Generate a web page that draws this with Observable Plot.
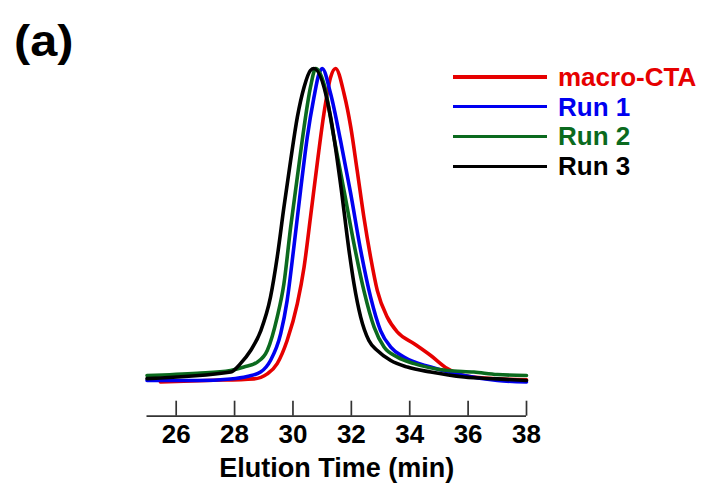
<!DOCTYPE html>
<html>
<head>
<meta charset="utf-8">
<script src="https://cdn.jsdelivr.net/npm/d3@7"></script>
<script src="https://cdn.jsdelivr.net/npm/@observablehq/plot@0.6"></script>
<style>
  html, body { margin: 0; padding: 0; background: #fff; }
  #wrap { position: relative; width: 707px; height: 485px; font-family: "Liberation Sans", Arial, sans-serif; }
  #panel { position: absolute; left: 14px; top: 18px; font-size: 45px; font-weight: bold; color: #000; line-height: 1; transform: scaleX(1.08); transform-origin: left top; }
  #legend { position: absolute; left: 453px; top: 62px; }
  .row { display: flex; align-items: center; height: 29.8px; }
  .sw { width: 94px; height: 3.4px; margin-right: 11px; }
  .lab { font-size: 26px; font-weight: bold; line-height: 1; white-space: nowrap; }
</style>
</head>
<body>
<div id="wrap">
  <div id="chart"></div>
  <div id="panel">(a)</div>
  <div id="legend"></div>
</div>
<script>
// Series names and colours
const seriesNames = ["macro-CTA", "Run 1", "Run 2", "Run 3"];
const seriesColors = ["#e60000", "#0000f0", "#0b6a1e", "#000000"];

// [elution time (min), normalized signal]
const macroCTA = [
  [25.46, -0.005], [27.06, 0.0], [28.66, 0.005], [29.12, 0.021], [29.46, 0.054], [29.8, 0.128],
  [30.15, 0.246], [30.38, 0.363], [30.6, 0.523], [30.83, 0.695], [31.06, 0.855], [31.29, 0.972],
  [31.46, 1.0], [31.75, 0.919], [31.98, 0.812], [32.2, 0.673], [32.43, 0.523], [32.66, 0.395],
  [32.89, 0.288], [33.23, 0.203], [33.58, 0.155], [34.15, 0.118], [34.72, 0.080], [35.29, 0.038],
  [35.86, 0.016], [37.0, 0.005], [38.0, 0.002]
];
const run1 = [
  [25.0, 0.0], [26.72, 0.0], [27.86, 0.005], [28.43, 0.013], [28.89, 0.027], [29.23, 0.064],
  [29.58, 0.150], [29.8, 0.256], [30.03, 0.427], [30.26, 0.609], [30.49, 0.780], [30.72, 0.908],
  [30.89, 0.983], [31.0, 1.0], [31.29, 0.919], [31.63, 0.769], [31.98, 0.598], [32.32, 0.417],
  [32.66, 0.267], [33.0, 0.160], [33.35, 0.107], [33.8, 0.075], [34.72, 0.043], [35.86, 0.016],
  [37.0, 0.0], [38.0, -0.005]
];
const run2 = [
  [25.0, 0.016], [26.72, 0.023], [27.86, 0.032], [28.32, 0.043], [28.78, 0.059], [29.12, 0.096],
  [29.46, 0.203], [29.69, 0.310], [29.92, 0.491], [30.15, 0.652], [30.38, 0.812], [30.6, 0.940],
  [30.78, 1.0], [31.06, 0.951], [31.4, 0.780], [31.75, 0.609], [32.09, 0.438], [32.43, 0.288],
  [32.78, 0.171], [33.12, 0.107], [33.58, 0.075], [34.15, 0.054], [35.29, 0.032], [36.2, 0.027],
  [37.0, 0.019], [38.0, 0.016]
];
const run3 = [
  [25.0, 0.006], [27.87, 0.027], [28.2, 0.054], [28.55, 0.096], [28.9, 0.160], [29.23, 0.267],
  [29.46, 0.395], [29.69, 0.555], [29.92, 0.705], [30.15, 0.844], [30.38, 0.940], [30.6, 0.994],
  [30.72, 1.0], [31.29, 0.844], [31.63, 0.630], [31.92, 0.417], [32.09, 0.310], [32.32, 0.203],
  [32.6, 0.128], [32.89, 0.096], [33.35, 0.064], [33.92, 0.043], [34.72, 0.027], [35.86, 0.011],
  [37.0, 0.005], [38.0, 0.0]
];

const xTicks = [26, 28, 30, 32, 34, 36, 38];
const xDomain = [25, 38];
const axisTitle = "Elution Time (min)";

const allSeries = [macroCTA, run1, run2, run3];
const data = allSeries.flatMap((s, i) => s.map(([t, v]) => ({t, v, name: seriesNames[i]})));

const W = 707, H = 485;
const mTop = 68, mBottom = 69.3;
const yMin = -0.1145;
const innerH = H - mTop - mBottom;
const tickLen = (1 - yMin) / innerH * 15;

const chart = Plot.plot({
  width: W,
  height: H,
  marginLeft: 146.5,
  marginRight: 181,
  marginTop: mTop,
  marginBottom: mBottom,
  style: {fontFamily: '"Liberation Sans", Arial, sans-serif', background: "#fff", color: "#000"},
  x: {domain: xDomain},
  y: {domain: [yMin, 1], axis: null},
  color: {domain: seriesNames, range: seriesColors},
  marks: [
    Plot.ruleY([yMin], {stroke: "#333", strokeWidth: 1.7}),
    Plot.ruleX(xTicks, {x: d => d, y1: yMin, y2: yMin + tickLen, stroke: "#333", strokeWidth: 1.7}),
    Plot.axisX({ticks: xTicks, tickSize: 0, tickPadding: 8, fontSize: 26, fontWeight: "bold", tickFormat: d => String(d), label: null}),
    ...seriesNames.map((n, i) => Plot.line(data.filter(d => d.name === n), {
      x: "t", y: "v", stroke: seriesColors[i], strokeWidth: 3.6, curve: "monotone-x", strokeLinejoin: "round"
    })),
    Plot.text([axisTitle], {frameAnchor: "bottom", dy: 52, text: d => d, fontSize: 27, fontWeight: "bold", fill: "#000", lineAnchor: "middle"})
  ]
});
document.getElementById("chart").appendChild(chart);

const legend = document.getElementById("legend");
seriesNames.forEach((n, i) => {
  const row = document.createElement("div");
  row.className = "row";
  const sw = document.createElement("div");
  sw.className = "sw";
  sw.style.background = seriesColors[i];
  const lab = document.createElement("span");
  lab.className = "lab";
  lab.style.color = seriesColors[i];
  lab.textContent = n;
  row.appendChild(sw);
  row.appendChild(lab);
  legend.appendChild(row);
});
</script>
</body>
</html>
